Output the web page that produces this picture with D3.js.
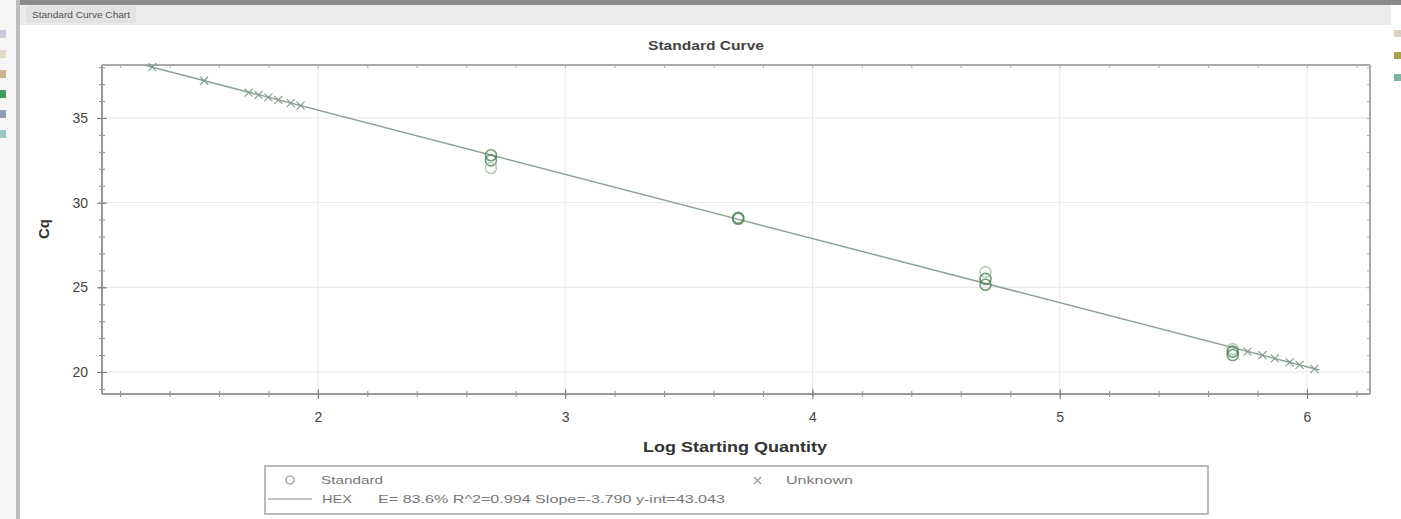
<!DOCTYPE html>
<html>
<head>
<meta charset="utf-8">
<script src="https://cdn.jsdelivr.net/npm/d3@7"></script>
<style>
  body { margin: 0; background: #fff; font-family: "Liberation Sans", Arial, sans-serif; }
  svg { display: block; }
</style>
</head>
<body>
<script>
// standard wells: log quantity and Cq
const stdLogQ = [2.7, 2.7, 2.7, 3.7, 3.7, 4.7, 4.7, 4.7, 5.7, 5.7, 5.7];
const stdCq = [32.8, 32.5, 32.05, 29.05, 29.1, 25.9, 25.5, 25.15, 21.35, 21.2, 21.0];

// unknown wells
const unkLogQ = [1.33, 1.54, 1.72, 1.76, 1.80, 1.84, 1.89, 1.93, 5.76, 5.82, 5.87, 5.93, 5.97, 6.03];
const unkCq = [38.0, 37.2, 36.5, 36.37, 36.22, 36.07, 35.88, 35.73, 21.2, 20.99, 20.8, 20.57, 20.42, 20.19];

const slope = -3.790;
const yInt = 43.043;
const fitRange = [1.15, 6.05];

const xTicks = [2, 3, 4, 5, 6];
const yTicks = [20, 25, 30, 35];

const width = 1401, height = 519;
const plot = { left: 102, top: 65, right: 1370, bottom: 394 };

const svg = d3.select("body").append("svg")
    .attr("width", width)
    .attr("height", height);

// window chrome
svg.append("rect").attr("x", 0).attr("y", 0).attr("width", width).attr("height", 5).attr("fill", "#8a8a8a");
svg.append("rect").attr("x", 20).attr("y", 5).attr("width", width - 30).attr("height", 20).attr("fill", "#ececec");
svg.append("rect").attr("x", 26).attr("y", 6).attr("width", 110).attr("height", 17).attr("fill", "#e2e2e2");
svg.append("text").attr("x", 32).attr("y", 18).attr("font-size", 9).attr("fill", "#555")
    .attr("textLength", 98).attr("lengthAdjust", "spacingAndGlyphs").text("Standard Curve Chart");
svg.append("rect").attr("x", 0).attr("y", 0).attr("width", 16).attr("height", height).attr("fill", "#f6f6f6");
svg.append("rect").attr("x", 16).attr("y", 0).attr("width", 4).attr("height", height).attr("fill", "#bdbdbd");
const leftIcons = ["#cfc7dd", "#e2d9c6", "#c9b48f", "#3f9c5c", "#8f9fb8", "#9fc6c4"];
svg.selectAll(".licon").data(leftIcons).join("rect")
    .attr("x", 0).attr("y", (d, i) => 30 + i * 20).attr("width", 6).attr("height", 8)
    .attr("fill", d => d);
const rightIcons = ["#d8d2c2", "#a9a24a", "#7fb3a4"];
svg.selectAll(".ricon").data(rightIcons).join("rect")
    .attr("x", 1394).attr("y", (d, i) => 30 + i * 22).attr("width", 7).attr("height", 7)
    .attr("fill", d => d);

const x = d3.scaleLinear().domain([1.127, 6.255]).range([plot.left, plot.right]);
const y = d3.scaleLinear().domain([18.7, 38.13]).range([plot.bottom, plot.top]);

svg.append("defs").append("clipPath").attr("id", "clip")
    .append("rect").attr("x", plot.left).attr("y", plot.top)
    .attr("width", plot.right - plot.left).attr("height", plot.bottom - plot.top);

// grid
svg.append("g").selectAll("line").data(xTicks).join("line")
    .attr("x1", d => x(d)).attr("x2", d => x(d))
    .attr("y1", plot.top).attr("y2", plot.bottom)
    .attr("stroke", "#e6e6e6");
svg.append("g").selectAll("line").data(yTicks).join("line")
    .attr("y1", d => y(d)).attr("y2", d => y(d))
    .attr("x1", plot.left).attr("x2", plot.right)
    .attr("stroke", "#e6e6e6");

// axes
const xMinor = d3.range(1.2, 6.25, 0.2);
const yMinor = d3.range(19, 38.5, 1);

svg.append("g").attr("transform", `translate(0,${plot.bottom})`)
    .call(d3.axisBottom(x).tickValues(xMinor).tickSize(3).tickFormat(""))
    .call(g => g.selectAll("line").attr("stroke", "#888").attr("y1", -3))
    .call(g => g.select(".domain").remove());
svg.append("g").attr("transform", `translate(0,${plot.bottom})`)
    .call(d3.axisBottom(x).tickValues(xTicks).tickSize(5).tickFormat(d3.format("d")))
    .call(g => g.selectAll("line").attr("stroke", "#777").attr("y1", -5))
    .call(g => g.select(".domain").attr("stroke", "#999").attr("stroke-width", 2).attr("d", `M${plot.left},0H${plot.right}`))
    .call(g => g.selectAll("text").attr("font-size", 14).attr("fill", "#444")
        .attr("y", 28).attr("dy", null));

svg.append("g").attr("transform", `translate(${plot.left},0)`)
    .call(d3.axisLeft(y).tickValues(yMinor).tickSize(3).tickFormat(""))
    .call(g => g.selectAll("line").attr("stroke", "#888").attr("x1", 3))
    .call(g => g.select(".domain").remove());
svg.append("g").attr("transform", `translate(${plot.left},0)`)
    .call(d3.axisLeft(y).tickValues(yTicks).tickSize(5).tickFormat(d3.format("d")))
    .call(g => g.selectAll("line").attr("stroke", "#777").attr("x1", 5))
    .call(g => g.select(".domain").attr("stroke", "#999").attr("stroke-width", 2).attr("d", `M0,${plot.top}V${plot.bottom}`))
    .call(g => g.selectAll("text").attr("font-size", 14).attr("fill", "#444").attr("x", -14));

// top and right borders with mirrored ticks
svg.append("g").attr("transform", `translate(0,${plot.top})`)
    .call(d3.axisTop(x).tickValues(xMinor).tickSize(-3).tickFormat(""))
    .call(g => g.selectAll("line").attr("stroke", "#aaa"))
    .call(g => g.select(".domain").attr("stroke", "#aaa").attr("stroke-width", 2).attr("d", `M${plot.left},0H${plot.right}`));
svg.append("g").attr("transform", `translate(${plot.right},0)`)
    .call(d3.axisRight(y).tickValues(yMinor).tickSize(-3).tickFormat(""))
    .call(g => g.selectAll("line").attr("stroke", "#aaa"))
    .call(g => g.select(".domain").attr("stroke", "#aaa").attr("stroke-width", 2).attr("d", `M0,${plot.top}V${plot.bottom}`));

// fit line
svg.append("line")
    .attr("clip-path", "url(#clip)")
    .attr("x1", x(fitRange[0])).attr("y1", y(yInt + slope * fitRange[0]))
    .attr("x2", x(fitRange[1])).attr("y2", y(yInt + slope * fitRange[1]))
    .attr("stroke", "#8ea397").attr("stroke-width", 1.5);

// unknowns
const cross = 4;
const unk = svg.append("g").selectAll("g").data(unkLogQ).join("g")
    .attr("transform", (d, i) => `translate(${x(d)},${y(unkCq[i])})`);
unk.append("path")
    .attr("d", `M${-cross},${-cross}L${cross},${cross}M${-cross},${cross}L${cross},${-cross}`)
    .attr("stroke", "#7f9a88").attr("stroke-width", 1.1).attr("fill", "none");

// standards
svg.append("g").selectAll("circle").data(stdLogQ).join("circle")
    .attr("cx", d => x(d)).attr("cy", (d, i) => y(stdCq[i]))
    .attr("r", 5.5)
    .attr("fill", "none")
    .attr("stroke", (d, i) => i % 3 === 2 ? "#9cbf9f" : "#3f7f47")
    .attr("stroke-opacity", 0.75)
    .attr("stroke-width", 1.6);

// titles
svg.append("text").attr("x", 706).attr("y", 50).attr("text-anchor", "middle")
    .attr("font-size", 12).attr("font-weight", "bold").attr("fill", "#444")
    .attr("textLength", 116).attr("lengthAdjust", "spacingAndGlyphs").text("Standard Curve");
svg.append("text").attr("x", 735).attr("y", 452).attr("text-anchor", "middle")
    .attr("font-size", 15).attr("font-weight", "bold").attr("fill", "#333")
    .attr("textLength", 184).attr("lengthAdjust", "spacingAndGlyphs").text("Log Starting Quantity");
svg.append("text").attr("transform", "translate(49,229) rotate(-90)").attr("text-anchor", "middle")
    .attr("font-size", 15).attr("font-weight", "bold").attr("fill", "#333").text("Cq");

// legend
const lg = svg.append("g");
lg.append("rect").attr("x", 265).attr("y", 466).attr("width", 943).attr("height", 48)
    .attr("fill", "#fff").attr("stroke", "#bbb").attr("stroke-width", 2);
lg.append("circle").attr("cx", 290).attr("cy", 480).attr("r", 4)
    .attr("fill", "none").attr("stroke", "#888").attr("stroke-width", 1.2);
lg.append("text").attr("x", 321).attr("y", 484).attr("font-size", 11).attr("fill", "#777")
    .attr("textLength", 62).attr("lengthAdjust", "spacingAndGlyphs").text("Standard");
lg.append("path").attr("d", "M754,477L761,484M754,484L761,477").attr("stroke", "#999").attr("stroke-width", 1.2);
lg.append("text").attr("x", 786).attr("y", 484).attr("font-size", 11).attr("fill", "#777")
    .attr("textLength", 67).attr("lengthAdjust", "spacingAndGlyphs").text("Unknown");
lg.append("line").attr("x1", 268).attr("x2", 312).attr("y1", 499).attr("y2", 499)
    .attr("stroke", "#aab5ae").attr("stroke-width", 1.5);
lg.append("text").attr("x", 322).attr("y", 503).attr("font-size", 11).attr("fill", "#777")
    .attr("textLength", 30).attr("lengthAdjust", "spacingAndGlyphs").text("HEX");
lg.append("text").attr("x", 378).attr("y", 503).attr("font-size", 11).attr("fill", "#777")
    .attr("textLength", 347).attr("lengthAdjust", "spacingAndGlyphs")
    .text("E= 83.6% R^2=0.994 Slope=-3.790 y-int=43.043");
</script>
</body>
</html>
